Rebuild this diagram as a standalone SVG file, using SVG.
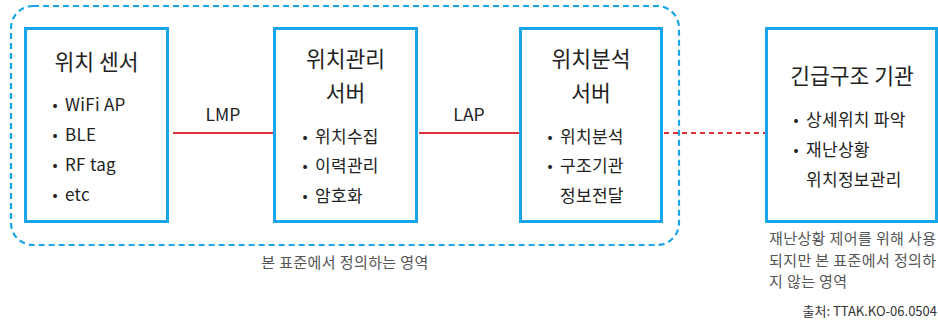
<svg xmlns="http://www.w3.org/2000/svg" width="938" height="321" viewBox="0 0 938 321">
<style>
text{font-family:"Noto Sans CJK KR","Noto Sans",sans-serif;fill:#222;dominant-baseline:central}
.box{fill:#fff;stroke:#1aa5e8;stroke-width:3}
.title{font-size:21.5px;text-anchor:middle}
.item{font-size:17px;letter-spacing:0.3px}
.bul{font-size:15px;text-anchor:middle}
.lbl{font-size:17.5px;text-anchor:middle}
.note{font-size:15px;fill:#555;letter-spacing:0.4px}
.src{font-size:13px;fill:#333;text-anchor:end}
.solid{stroke:#e0303a;stroke-width:2;fill:none}
.dash{stroke:#e0303a;stroke-width:2;fill:none;stroke-dasharray:5 4}
</style>
<g id="scope">
<rect x="11" y="6" width="668" height="239" rx="22" ry="22" fill="none" stroke="#1aa5e8" stroke-width="2.2" stroke-dasharray="6 4"/>
<text class="note" x="345" y="261" text-anchor="middle">본 표준에서 정의하는 영역</text>
</g>
<g id="connectors">
<line class="solid" x1="173" y1="133" x2="273" y2="133"/>
<text class="lbl" x="223" y="113">LMP</text>
<line class="solid" x1="419" y1="133" x2="519" y2="133"/>
<text class="lbl" x="469" y="113">LAP</text>
<line class="dash" x1="664" y1="133" x2="765" y2="133"/>
</g>
<g id="sensor">
<rect class="box" x="25.5" y="28.5" width="142" height="193"/>
<text class="title" x="96.5" y="60">위치 센서</text>
<text class="bul" x="55" y="103">•</text><text class="item" x="65" y="103">WiFi AP</text>
<text class="bul" x="55" y="133">•</text><text class="item" x="65" y="133">BLE</text>
<text class="bul" x="55" y="163">•</text><text class="item" x="65" y="163">RF tag</text>
<text class="bul" x="55" y="193">•</text><text class="item" x="65" y="193">etc</text>
</g>
<g id="management">
<rect class="box" x="274.5" y="28.5" width="142" height="193"/>
<text class="title" x="345.5" y="57">위치관리</text>
<text class="title" x="345.5" y="91">서버</text>
<text class="bul" x="305" y="135">•</text><text class="item" x="315" y="135">위치수집</text>
<text class="bul" x="305" y="164">•</text><text class="item" x="315" y="164">이력관리</text>
<text class="bul" x="305" y="194">•</text><text class="item" x="315" y="194">암호화</text>
</g>
<g id="analysis">
<rect class="box" x="520.5" y="28.5" width="141" height="193"/>
<text class="title" x="591" y="57">위치분석</text>
<text class="title" x="591" y="91">서버</text>
<text class="bul" x="550" y="135">•</text><text class="item" x="560" y="135">위치분석</text>
<text class="bul" x="550" y="164">•</text><text class="item" x="560" y="164">구조기관</text>
<text class="item" x="560" y="194">정보전달</text>
</g>
<g id="rescue">
<rect class="box" x="766.5" y="28.5" width="170" height="193"/>
<text class="title" x="852" y="74">긴급구조 기관</text>
<text class="bul" x="796" y="118">•</text><text class="item" x="806" y="118">상세위치 파악</text>
<text class="bul" x="796" y="148">•</text><text class="item" x="806" y="148">재난상황</text>
<text class="item" x="806" y="178">위치정보관리</text>
<text class="note" x="769" y="237">재난상황 제어를 위해 사용</text>
<text class="note" x="769" y="259">되지만 본 표준에서 정의하</text>
<text class="note" x="769" y="280">지 않는 영역</text>
</g>
<text class="src" x="937" y="310">출처: TTAK.KO-06.0504</text>
</svg>
